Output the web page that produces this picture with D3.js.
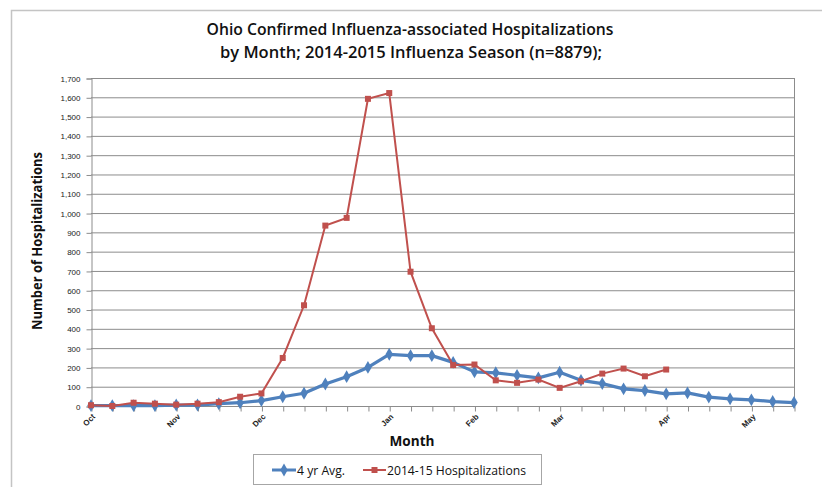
<!DOCTYPE html>
<html>
<head>
<meta charset="utf-8">
<script src="https://cdn.jsdelivr.net/npm/d3@7"></script>
<style>
  body { margin: 0; background: #fff; }
  svg { display: block; font-family: "Open Sans", "Liberation Sans", sans-serif; }
</style>
</head>
<body>
<svg id="chart" width="822" height="487"></svg>
<script>
// ---- data ----
const weekLabels = ["Oct","","","","Nov","","","","Dec","","","","","","Jan","","","","Feb","","","","Mar","","","","","Apr","","","","May","",""];
const avgValues = [2,2,2,2,5,5,12,17,28,48,66,114,152,200,268,261,261,226,177,172,159,146,175,133,116,89,80,63,68,46,37,32,23,18];
const seasonValues = [4,0,17,12,7,12,20,48,65,249,522,935,975,1592,1622,696,403,212,215,133,120,137,94,128,168,194,154,189];
const yTicks = [0,100,200,300,400,500,600,700,800,900,1000,1100,1200,1300,1400,1500,1600,1700];
const seriesNames = ["4 yr Avg.", "2014-15 Hospitalizations"];
const titleLines = ["Ohio Confirmed Influenza-associated Hospitalizations", "by Month; 2014-2015 Influenza Season (n=8879);"];

const blue = "#4F81BD", red = "#C0504D", gridC = "#8c8c8c";
const svg = d3.select("#chart");

// outer chart border
svg.append("rect").attr("x", 11.5).attr("y", 10.5).attr("width", 830).attr("height", 500)
  .attr("fill", "none").attr("stroke", "#c4c4c4").attr("stroke-width", 1.5);

const plot = {left: 91, right: 794, top: 78, bottom: 406};
const x = d3.scalePoint().domain(d3.range(weekLabels.length)).range([plot.left, plot.right]);
const y = d3.scaleLinear().domain([0, 1700]).range([plot.bottom, plot.top]);

// gridlines
svg.append("g").selectAll("line").data(yTicks.filter(d => d > 0)).join("line")
  .attr("x1", plot.left).attr("x2", plot.right)
  .attr("y1", d => y(d) + 0.5).attr("y2", d => y(d) + 0.5)
  .attr("stroke", gridC).attr("stroke-width", 1);
// right border of plot
svg.append("line").attr("x1", plot.right + 0.5).attr("x2", plot.right + 0.5)
  .attr("y1", plot.top).attr("y2", plot.bottom).attr("stroke", gridC);

// y axis
const yAxis = d3.axisLeft(y).tickValues(yTicks).tickSize(5).tickPadding(6)
  .tickFormat(d3.format(","));
const gy = svg.append("g").attr("transform", `translate(${plot.left + 0.5},0.5)`).call(yAxis);
gy.select(".domain").attr("stroke", gridC);
gy.selectAll(".tick line").attr("stroke", gridC);
gy.selectAll("text").attr("font-size", 8).attr("fill", "#222");

// x axis
const xAxis = d3.axisBottom(x).tickSize(5).tickFormat(i => weekLabels[i]);
const gx = svg.append("g").attr("transform", `translate(0.5,${plot.bottom + 0.5})`).call(xAxis);
gx.select(".domain").attr("stroke", gridC).attr("d", `M${plot.left},0H${plot.right}`);
gx.selectAll(".tick line").attr("stroke", gridC);
gx.selectAll("text").attr("font-size", 8).attr("font-weight", "bold").attr("fill", "#222")
  .attr("text-anchor", "end").attr("dy", "0.3em")
  .attr("transform", "translate(2,9) rotate(-45)").attr("y", 0).attr("x", 0);

// lines
const line = d3.line().x((d, i) => x(i)).y(d => y(d));
svg.append("path").datum(avgValues).attr("d", line).attr("fill", "none")
  .attr("stroke", blue).attr("stroke-width", 3.2).attr("stroke-linejoin", "round");
const diamond = d3.symbol().type(d3.symbolDiamond).size(48);
svg.append("g").selectAll("path").data(avgValues).join("path")
  .attr("d", diamond).attr("transform", (d, i) => `translate(${x(i)},${y(d)})`)
  .attr("fill", blue);

svg.append("path").datum(seasonValues).attr("d", line).attr("fill", "none")
  .attr("stroke", red).attr("stroke-width", 2);
svg.append("g").selectAll("rect").data(seasonValues).join("rect")
  .attr("x", (d, i) => x(i) - 3).attr("y", d => y(d) - 3)
  .attr("width", 6).attr("height", 6).attr("fill", red);

// titles
svg.append("text").attr("x", 410).attr("y", 35).attr("text-anchor", "middle")
  .attr("font-size", 17).attr("font-weight", 600).attr("fill", "#111")
  .attr("textLength", 407).attr("lengthAdjust", "spacingAndGlyphs").text(titleLines[0]);
svg.append("text").attr("x", 411).attr("y", 58).attr("text-anchor", "middle")
  .attr("font-size", 17).attr("font-weight", 600).attr("fill", "#111")
  .attr("textLength", 382).attr("lengthAdjust", "spacingAndGlyphs").text(titleLines[1]);

svg.append("text").attr("transform", "translate(42,241) rotate(-90)").attr("text-anchor", "middle")
  .attr("font-size", 14).attr("font-weight", "bold").attr("fill", "#111")
  .attr("textLength", 178).attr("lengthAdjust", "spacingAndGlyphs").text("Number of Hospitalizations");
svg.append("text").attr("x", 412).attr("y", 446).attr("text-anchor", "middle")
  .attr("font-size", 14).attr("font-weight", "bold").attr("fill", "#111")
  .attr("textLength", 45).attr("lengthAdjust", "spacingAndGlyphs").text("Month");

// legend
const lg = svg.append("g");
lg.append("rect").attr("x", 253.5).attr("y", 454.5).attr("width", 288).attr("height", 30)
  .attr("fill", "#fff").attr("stroke", "#a6a6a6").attr("stroke-width", 1);
lg.append("line").attr("x1", 272).attr("x2", 296).attr("y1", 470).attr("y2", 470)
  .attr("stroke", blue).attr("stroke-width", 3);
lg.append("path").attr("d", diamond).attr("transform", "translate(284,470)").attr("fill", blue);
lg.append("text").attr("x", 297).attr("y", 475).attr("font-size", 13).attr("fill", "#111")
  .attr("textLength", 48).attr("lengthAdjust", "spacingAndGlyphs").text(seriesNames[0]);
lg.append("line").attr("x1", 363).attr("x2", 386).attr("y1", 470).attr("y2", 470)
  .attr("stroke", red).attr("stroke-width", 2);
lg.append("rect").attr("x", 371.5).attr("y", 467).attr("width", 6).attr("height", 6).attr("fill", red);
lg.append("text").attr("x", 387).attr("y", 475).attr("font-size", 13).attr("fill", "#111")
  .attr("textLength", 139).attr("lengthAdjust", "spacingAndGlyphs").text(seriesNames[1]);
</script>
</body>
</html>
